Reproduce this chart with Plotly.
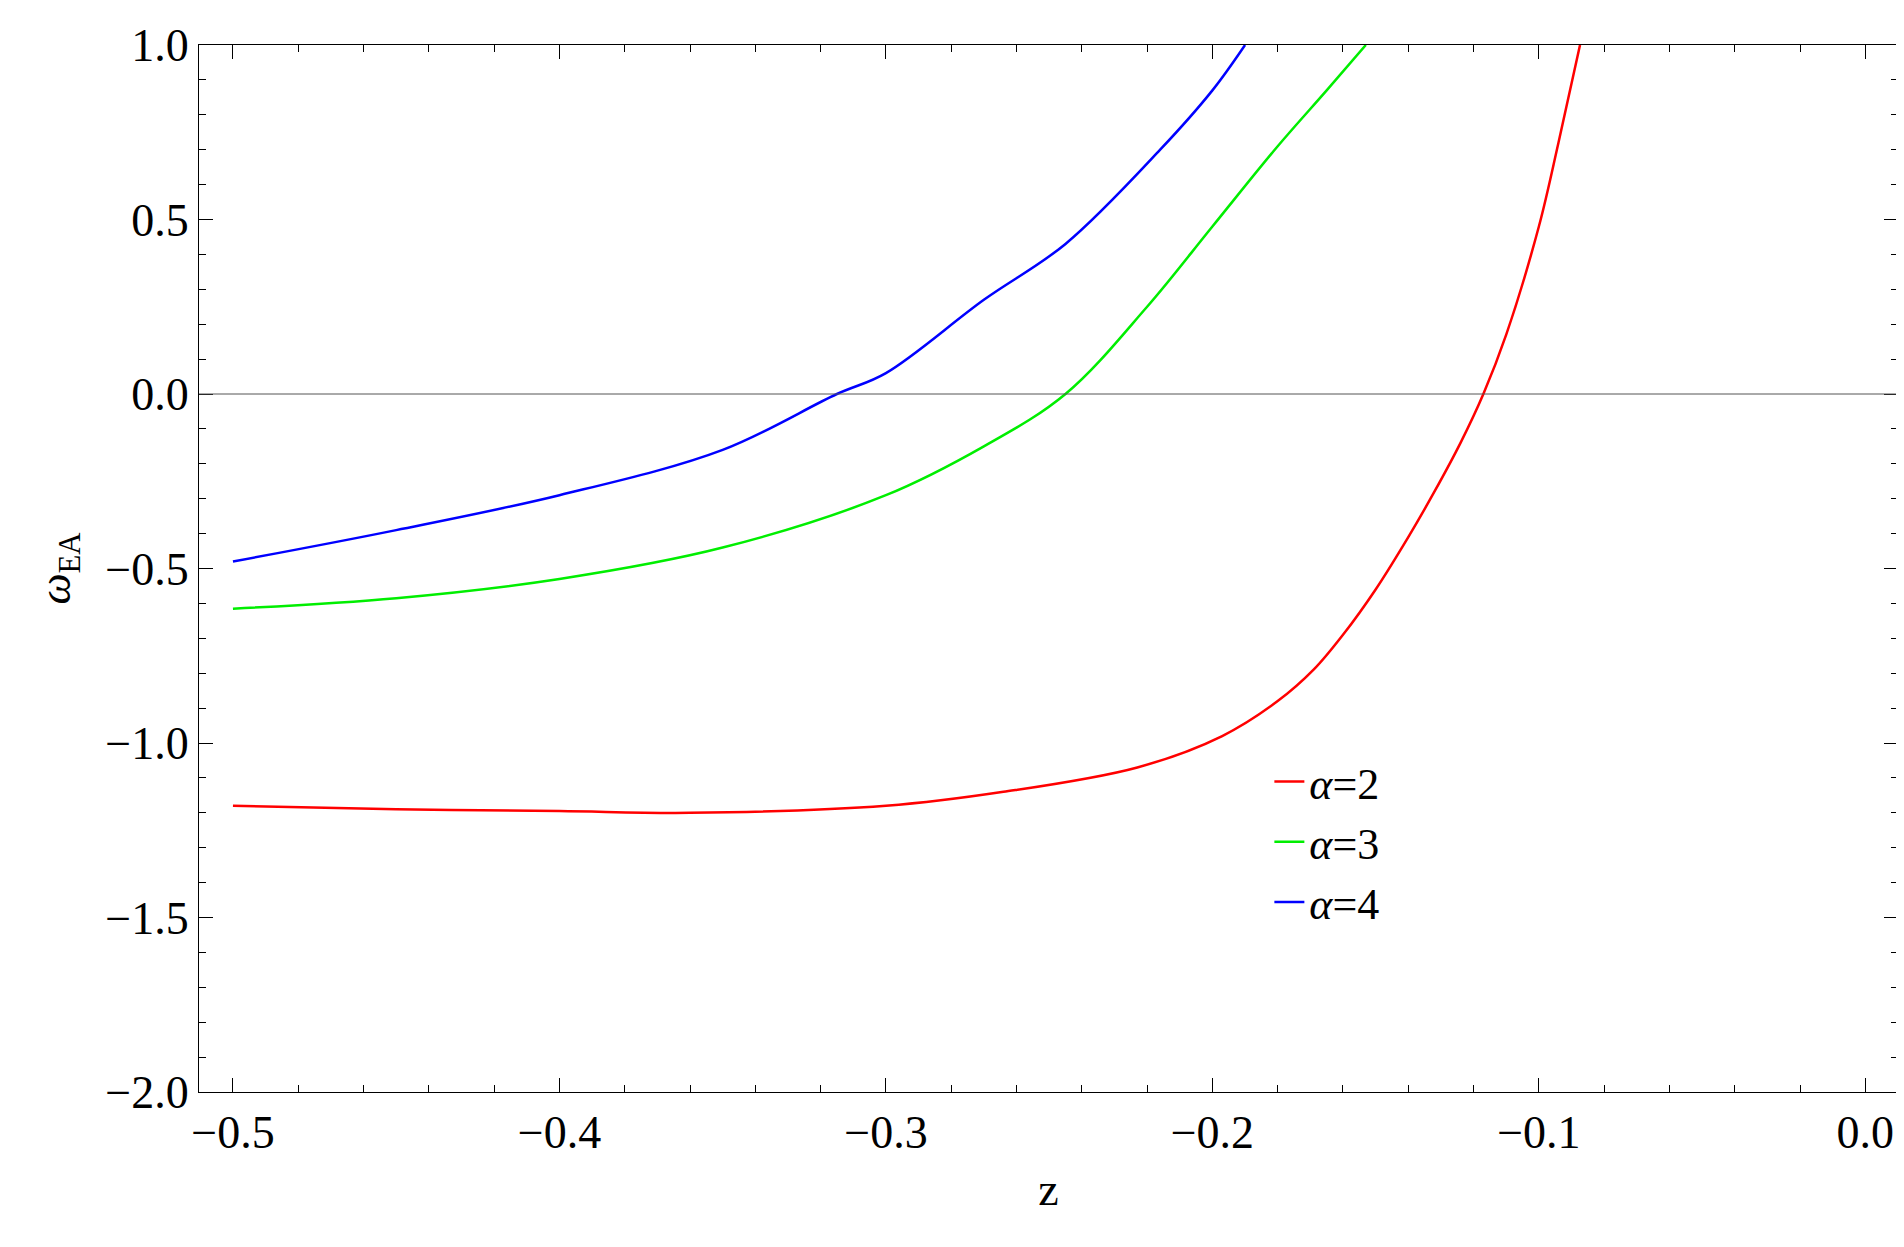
import plotly.graph_objects as go

z_red = [-0.5, -0.45, -0.4, -0.36, -0.3, -0.264, -0.223, -0.197, -0.18, -0.169, -0.16, -0.15, -0.14, -0.132, -0.124, -0.117, -0.11, -0.1, -0.094, -0.0874]
w_red = [-1.18, -1.19, -1.195, -1.2, -1.18, -1.14, -1.07, -0.98, -0.88, -0.79, -0.69, -0.56, -0.41, -0.28, -0.14, 0.0, 0.17, 0.48, 0.72, 1.0]

z_green = [-0.5, -0.45, -0.4, -0.35, -0.3, -0.27, -0.245, -0.22, -0.2, -0.18, -0.165, -0.153]
w_green = [-0.615, -0.585, -0.53, -0.44, -0.29, -0.15, 0.0, 0.25, 0.48, 0.71, 0.87, 1.0]

z_blue = [-0.5, -0.45, -0.4, -0.35, -0.315, -0.3, -0.27, -0.245, -0.216, -0.2, -0.19]
w_blue = [-0.48, -0.39, -0.29, -0.16, 0.0, 0.06, 0.27, 0.43, 0.70, 0.87, 1.0]

fig = go.Figure()
for z, w, c, n in [(z_red, w_red, "#ff0000", "<i>α</i>=2"),
                   (z_green, w_green, "#00ee00", "<i>α</i>=3"),
                   (z_blue, w_blue, "#0000ff", "<i>α</i>=4")]:
    fig.add_trace(go.Scatter(x=z, y=w, mode="lines", name=n,
                             line=dict(color=c, width=2.5, shape="spline", smoothing=1.0)))

axis = dict(showline=True, linecolor="black", linewidth=1, mirror="allticks",
            ticks="inside", ticklen=14, tickcolor="black", showgrid=False, zeroline=False,
            tickfont=dict(size=46, color="black", family="Liberation Serif"),
            minor=dict(ticks="inside", ticklen=7, tickcolor="black"))
fig.update_xaxes(**axis, range=[-0.5104, 0.01], tickvals=[-0.5, -0.4, -0.3, -0.2, -0.1, 0.0],
                 ticktext=["−0.5", "−0.4", "−0.3", "−0.2", "−0.1", "0.0"],
                 minor_dtick=0.02, title=dict(text="z", font=dict(size=46)))
fig.update_yaxes(**axis, range=[-2.0, 1.0], tickvals=[-2, -1.5, -1, -0.5, 0, 0.5, 1],
                 ticktext=["−2.0", "−1.5", "−1.0", "−0.5", "0.0", "0.5", "1.0"],
                 minor_dtick=0.1, title=dict(text="<i>ω</i><sub>EA</sub>", font=dict(size=44), standoff=20))
fig.add_hline(y=0, line=dict(color="#555555", width=1))

fig.update_layout(
    width=1904, height=1247, paper_bgcolor="white", plot_bgcolor="white",
    font=dict(family="Liberation Serif", color="black"),
    margin=dict(l=191, r=14, t=33, b=163),
    legend=dict(x=0.63, y=0.33, xanchor="left", yanchor="top",
                font=dict(size=44, family="Liberation Serif"),
                bgcolor="rgba(0,0,0,0)"),
)
fig.write_html("out.html")
